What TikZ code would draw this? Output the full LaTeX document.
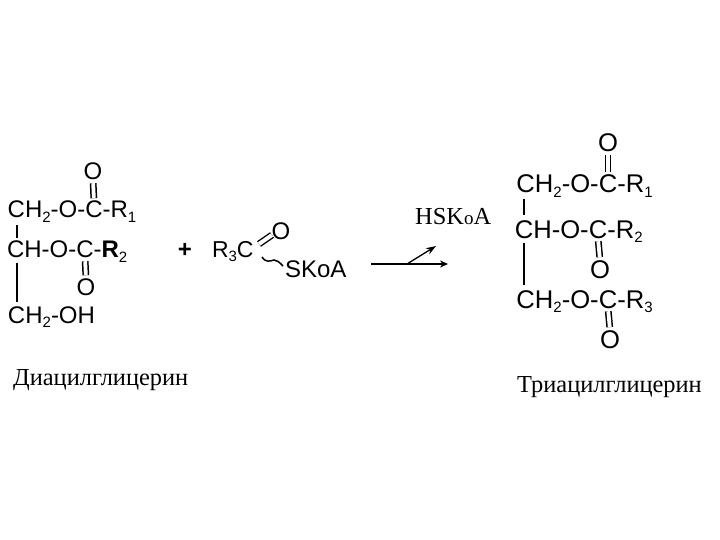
\documentclass[tikz,border=0pt]{standalone}
\usepackage{fontspec}
\setmainfont{Liberation Serif}
\newfontfamily\chemfont{Liberation Sans}
\newcommand{\sbs}[1]{\raisebox{-0.17em}{\fontsize{15}{15}\selectfont #1}}
\usetikzlibrary{arrows.meta}
\tikzset{
  atom/.style={inner sep=0pt,outer sep=0pt,text=black,font=\chemfont\fontsize{24}{24}\selectfont},
  big/.style={font=\chemfont\fontsize{25.6}{26}\selectfont},
  lefttxt/.style={atom,anchor=base east},
  righttxt/.style={atom,anchor=base west},
  center/.style={atom,anchor=base},
  caption/.style={inner sep=0pt,anchor=base west,font=\fontsize{24.4}{25}\selectfont},
  bond/.style={line width=1.5pt,black},
  thickbond/.style={line width=2.4pt,black},
  dbl/.style={double,double distance=3.8pt,line width=1.5pt,black,shorten >=3pt,shorten <=3pt},
  rxn/.style={line width=1.9pt,black,-{Stealth[length=8pt,width=7pt]}},
  rxnb/.style={line width=1.3pt,black,-{Stealth[length=10pt,width=7pt]}}
}
\begin{document}
\begin{tikzpicture}[x=1pt,y=-1pt]
\useasboundingbox (0,0) rectangle (720,540);
\fill[white] (0,0) rectangle (720,540);
% left molecule
\node[center] (lc1) at (94,218) {C};
\node[lefttxt] (lch1) at (lc1.base west) {CH\sbs{2}-O-};
\node[righttxt] (lr1) at (lc1.base east) {-R\sbs{1}};
\node[center] (lo1) at (93,180) {O};
\node[center] (lc2) at (85,258) {C};
\node[lefttxt] (lch2) at (lc2.base west) {CH-O-};
\node[righttxt] (lr2) at (lc2.base east) {-\textbf{R}\sbs{2}};
\node[center] (lo2) at (86,295) {O};
\node[atom,anchor=base west] (lch3) at (8,323) {CH\sbs{2}-OH};
\coordinate (la1) at (17,225);
\coordinate (lb1) at (17,238);
\coordinate (la2) at (17,263);
\coordinate (lb2) at (17,302);
\draw[bond] (la1) -- (lb1);
\draw[bond] (la2) -- (lb2);
\draw[dbl] (lo1.south) -- (lc1.north);
\draw[dbl] (lc2.south) -- (lo2.north);
\node[atom] (plus) at (185,250) {\textbf{+}};
% acyl
\node[atom,anchor=base west,font=\chemfont\fontsize{23}{23}\selectfont] (rc) at (212,258) {R\sbs{3}C};
\node[center] (oa) at (281,240) {O};
\node[righttxt] (sk) at (285,277) {SKoA};
\coordinate (dba) at (259,244);
\coordinate (dbb) at (272,235);
\draw[dbl,shorten >=0pt,shorten <=0pt,double distance=4pt,line width=1.4pt] (dba) -- (dbb);
\coordinate (wva) at (262,257);
\draw[bond] (wva) .. controls (266,263) and (270,261) .. (274,260) .. controls (277,260) and (279,262) .. (283,266);
% arrow
\coordinate (aa) at (371,264);
\coordinate (ab) at (448,264);
\coordinate (ac) at (407,264);
\coordinate (ad) at (436,246);
\draw[rxn] (aa) -- (ab);
\draw[rxnb] (ac) -- (ad);
\node[caption] (hs) at (415,225) {HSK{\fontsize{19}{19}\selectfont o}A};
% right molecule
\node[center,big] (rc1) at (608,193) {C};
\node[lefttxt,big] (rch1) at (rc1.base west) {CH\sbs{2}-O-};
\node[righttxt,big] (rr1) at (rc1.base east) {-R\sbs{1}};
\node[center,big] (ro1) at (608,152) {O};
\node[center,big] (rc2) at (598,238) {C};
\node[lefttxt,big] (rch2) at (rc2.base west) {CH-O-};
\node[righttxt,big] (rr2) at (rc2.base east) {-R\sbs{2}};
\node[center,big] (ro2) at (600,278) {O};
\node[center,big] (rc3) at (608,308) {C};
\node[lefttxt,big] (rch3) at (rc3.base west) {CH\sbs{2}-O-};
\node[righttxt,big] (rr3) at (rc3.base east) {-R\sbs{3}};
\node[center,big] (ro3) at (610,348) {O};
\coordinate (ra1) at (524,199);
\coordinate (rb1) at (524,215);
\coordinate (ra2) at (524,243);
\coordinate (rb2) at (524,285);
\draw[thickbond] (ra1) -- (rb1);
\draw[thickbond] (ra2) -- (rb2);
\draw[dbl] (ro1.south) -- (rc1.north);
\draw[dbl] (rc2.south) -- (ro2.north);
\draw[dbl] (rc3.south) -- (ro3.north);
% captions
\node[caption] (cl) at (13,385) {Диацилглицерин};
\node[caption] (cr) at (517,392) {Триацилглицерин};
\end{tikzpicture}
\end{document}
